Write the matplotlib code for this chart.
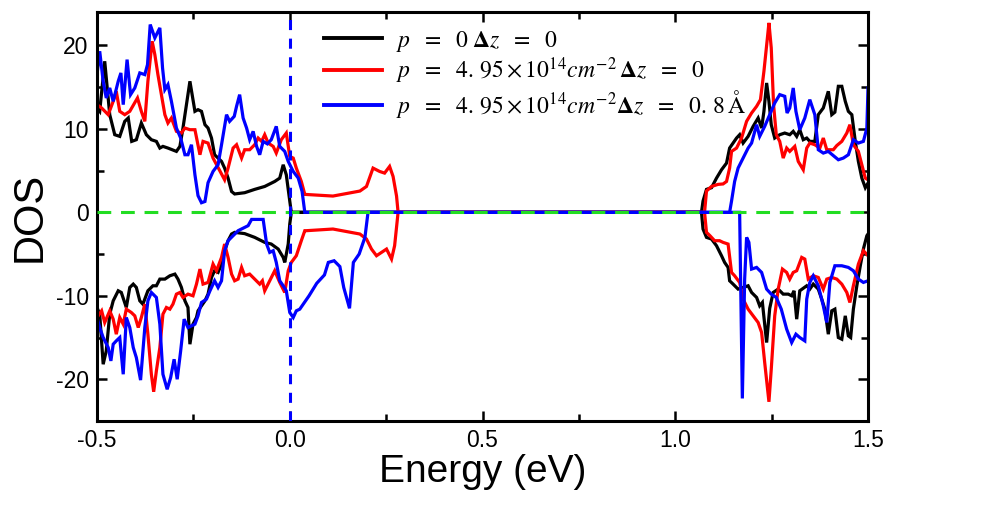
import numpy as np
import matplotlib
matplotlib.use("Agg")
import matplotlib.pyplot as plt
from matplotlib.ticker import MultipleLocator

plt.rcParams['font.family'] = ['Liberation Sans', 'DejaVu Sans']
plt.rcParams['mathtext.fontset'] = 'stix'
plt.rcParams['axes.unicode_minus'] = False

# ---------------- data ----------------
black_up_x = [-0.5, -0.493, -0.48, -0.467, -0.454, -0.441, -0.428, -0.419, -0.41, -0.398,
              -0.385, -0.372, -0.359, -0.346, -0.337, -0.329, -0.316, -0.294, -0.285, -0.277,
              -0.259, -0.246, -0.238, -0.229, -0.22, -0.212, -0.203, -0.195, -0.186, -0.177,
              -0.169, -0.16, -0.151, -0.143, -0.117, -0.091, -0.065, -0.039, -0.026, -0.017,
              -0.009, 0.0, 0.004,
              1.068, 1.072, 1.081, 1.094, 1.107, 1.12, 1.133, 1.141, 1.15, 1.159,
              1.167, 1.176, 1.189, 1.202, 1.215, 1.224, 1.23, 1.237, 1.243, 1.249,
              1.258, 1.271, 1.284, 1.297, 1.306, 1.315, 1.323, 1.332, 1.341, 1.349,
              1.362, 1.371, 1.384, 1.397, 1.406, 1.414, 1.423, 1.432, 1.441, 1.449,
              1.458, 1.467, 1.475, 1.484, 1.493, 1.5]
black_up_y = [12.5, 12.1, 18.1, 11.7, 9.3, 9.1, 10.9, 11.3, 8.5, 8.7,
              10.7, 9.3, 8.7, 8.5, 7.7, 7.9, 7.7, 7.3, 7.9, 10.1,
              15.7, 12.1, 12.3, 12.1, 10.5, 10.1, 8.9, 6.9, 6.5, 6.1,
              5.3, 4.1, 2.5, 2.2, 2.35, 2.75, 3.1, 3.7, 4.1, 5.7,
              4.5, 1.35, 0,
              0, 1.35, 2.75, 2.95, 4.1, 5.1, 5.9, 7.7, 8.3, 8.9,
              9.3, 8.3, 9.1, 10.3, 11.3, 10.1, 12.1, 15.5, 13.3, 10.5,
              8.9, 9.3, 9.5, 9.3, 9.7, 9.1, 9.9, 8.7, 8.9, 8.5,
              8.5, 11.7, 12.5, 14.5, 11.7, 12.0, 15.1, 15.1, 13.3, 12.1,
              11.7, 8.5, 6.1, 4.1, 2.95, 3.5]

black_dn_x = [-0.5, -0.493, -0.484, -0.476, -0.467, -0.458, -0.445, -0.437, -0.424, -0.415,
              -0.406, -0.398, -0.389, -0.381, -0.368, -0.355, -0.346, -0.337, -0.324, -0.311,
              -0.298, -0.29, -0.281, -0.272, -0.264, -0.259, -0.251, -0.242, -0.238, -0.22,
              -0.212, -0.203, -0.195, -0.186, -0.177, -0.169, -0.16, -0.151, -0.143, -0.117,
              -0.091, -0.065, -0.048, -0.03, -0.017, -0.013, -0.004, 0.0, 0.004,
              1.068, 1.072, 1.081, 1.094, 1.107, 1.12, 1.128, 1.137, 1.141, 1.15,
              1.163, 1.176, 1.189, 1.198, 1.211, 1.219, 1.226, 1.237, 1.245, 1.254,
              1.267, 1.28, 1.293, 1.302, 1.308, 1.315, 1.323, 1.341, 1.349, 1.358,
              1.371, 1.38, 1.388, 1.397, 1.406, 1.414, 1.423, 1.432, 1.441, 1.449,
              1.455, 1.462, 1.471, 1.48, 1.488, 1.497, 1.5]
black_dn_y = [-11.4, -12.2, -18.2, -16.6, -12.2, -10.6, -9.4, -9.6, -11.4, -9.0,
              -8.6, -9.0, -10.6, -11.0, -9.4, -8.8, -8.8, -8.0, -8.0, -7.6,
              -7.4, -8.0, -9.0, -10.6, -11.4, -15.8, -13.4, -12.6, -11.8, -10.6,
              -9.8, -7.8, -7.0, -7.2, -6.2, -4.6, -3.4, -2.6, -2.4, -2.55,
              -3.0, -3.6, -3.8, -4.4, -5.4, -6.0, -3.8, -1.4, 0,
              0, -2.0, -3.0, -3.2, -4.0, -5.2, -6.0, -6.6, -8.2, -8.6,
              -9.2, -9.0, -8.8, -9.6, -10.2, -11.2, -10.8, -15.6, -11.5, -9.6,
              -9.2, -9.8, -9.8, -10.0, -9.4, -12.8, -9.4, -8.8, -9.2, -8.6,
              -9.2, -10.4, -11.6, -14.6, -11.8, -11.6, -15.0, -15.2, -12.4, -14.8,
              -15.0, -11.6, -8.8, -6.4, -4.4, -2.8, -2.6]

red_up_x = [-0.5, -0.488, -0.471, -0.458, -0.45, -0.441, -0.428, -0.415, -0.395, -0.385,
            -0.376, -0.368, -0.357, -0.35, -0.342, -0.333, -0.324, -0.316, -0.307, -0.294,
            -0.281, -0.272, -0.259, -0.246, -0.233, -0.225, -0.212, -0.199, -0.169, -0.16,
            -0.147, -0.138, -0.125, -0.117, -0.104, -0.091, -0.082, -0.073, -0.065, -0.056,
            -0.043, -0.035, -0.022, -0.009, 0.0, 0.009, 0.017, 0.03, 0.039, 0.112,
            0.182, 0.199, 0.216, 0.233, 0.246, 0.259, 0.268, 0.277, 0.281,
            1.076, 1.081, 1.094, 1.111, 1.124, 1.133, 1.141, 1.146, 1.159, 1.172,
            1.185, 1.198, 1.211, 1.221, 1.23, 1.239, 1.243, 1.249, 1.255, 1.262,
            1.271, 1.28, 1.289, 1.297, 1.31, 1.319, 1.332, 1.341, 1.349, 1.362,
            1.375, 1.384, 1.393, 1.41, 1.419, 1.432, 1.445, 1.453, 1.462, 1.475,
            1.484, 1.493, 1.5]
red_up_y = [12.9, 12.5, 11.7, 13.3, 14.5, 12.1, 11.7, 12.1, 13.7, 12.1,
            10.9, 15.7, 20.5, 18.9, 16.5, 14.1, 11.7, 10.7, 11.3, 9.7,
            9.5, 10.1, 9.9, 9.9, 6.9, 8.5, 8.3, 6.5, 3.9, 5.3,
            7.7, 8.1, 6.5, 7.5, 7.5, 8.1, 8.9, 8.5, 9.3, 8.3,
            7.9, 7.1, 8.7, 9.5, 6.7, 6.5, 5.3, 3.7, 2.15, 1.95,
            2.55, 3.1, 5.3, 4.9, 4.7, 5.5, 4.3, 1.95, 0,
            0, 2.55, 3.1, 3.35, 3.4, 3.7, 5.3, 7.3, 7.7, 8.9,
            10.9, 11.9, 12.7, 13.5, 16.9, 20.9, 22.7, 19.7, 12.9, 9.3,
            8.5, 6.5, 7.7, 7.3, 7.9, 6.1, 5.1, 7.7, 8.3, 8.1,
            7.7, 8.9, 7.5, 7.5, 8.0, 8.5, 9.5, 10.5, 8.1, 7.3,
            5.7, 4.1, 3.9]

red_dn_x = [-0.5, -0.488, -0.48, -0.467, -0.458, -0.45, -0.441, -0.432, -0.424, -0.411,
            -0.402, -0.393, -0.385, -0.376, -0.368, -0.359, -0.353, -0.346, -0.337, -0.329,
            -0.32, -0.311, -0.303, -0.294, -0.285, -0.277, -0.264, -0.251, -0.242, -0.233,
            -0.225, -0.212, -0.199, -0.19, -0.177, -0.169, -0.16, -0.151, -0.143, -0.134,
            -0.125, -0.117, -0.104, -0.091, -0.078, -0.071, -0.065, -0.052, -0.039, -0.026,
            -0.013, -0.004, 0.004, 0.017, 0.03, 0.039, 0.043, 0.112, 0.182, 0.199,
            0.212, 0.225, 0.238, 0.251, 0.264, 0.272, 0.281,
            1.076, 1.081, 1.09, 1.102, 1.115, 1.124, 1.137, 1.146, 1.154, 1.167,
            1.176, 1.189, 1.202, 1.215, 1.224, 1.232, 1.243, 1.249, 1.258, 1.267,
            1.278, 1.289, 1.297, 1.306, 1.315, 1.328, 1.336, 1.345, 1.358, 1.371,
            1.384, 1.393, 1.406, 1.419, 1.432, 1.445, 1.453, 1.462, 1.475, 1.488,
            1.5]
red_dn_y = [-12.6, -11.8, -13.2, -11.8, -12.8, -14.6, -12.6, -13.4, -11.6, -12.0,
            -12.4, -13.8, -12.6, -11.0, -14.6, -19.4, -21.5, -19.0, -16.2, -12.2,
            -11.4, -11.6, -11.0, -9.8, -9.6, -10.2, -9.8, -10.0, -8.6, -6.8,
            -8.6, -8.4, -6.2, -7.0, -5.4, -3.8, -5.4, -7.4, -8.2, -8.0,
            -6.6, -7.6, -7.4, -8.0, -8.6, -8.2, -9.4, -8.2, -7.0, -8.4,
            -9.6, -7.0, -6.0, -5.2, -3.4, -2.2, -2.2, -2.0, -2.6, -3.2,
            -4.4, -5.2, -4.8, -4.4, -5.6, -4.0, 0,
            0, -2.4, -2.8, -3.4, -3.4, -3.6, -3.8, -7.2, -7.6, -8.4,
            -10.4, -11.6, -12.4, -13.2, -14.4, -18.0, -22.7, -18.8, -12.4, -9.2,
            -6.8, -7.2, -8.0, -7.2, -7.0, -5.4, -5.6, -8.0, -7.6, -7.8,
            -9.2, -8.0, -7.8, -8.0, -8.6, -9.6, -10.8, -8.8, -6.2, -4.6,
            -5.2]

blue_up_x = [-0.5, -0.493, -0.484, -0.476, -0.467, -0.458, -0.445, -0.438, -0.432, -0.422,
             -0.413, -0.402, -0.389, -0.376, -0.369, -0.362, -0.35, -0.337, -0.33, -0.324,
             -0.316, -0.307, -0.294, -0.283, -0.272, -0.264, -0.255, -0.246, -0.238, -0.229,
             -0.22, -0.212, -0.199, -0.186, -0.177, -0.164, -0.156, -0.144, -0.138, -0.13,
             -0.121, -0.112, -0.104, -0.095, -0.086, -0.078, -0.069, -0.058, -0.048, -0.035,
             -0.026, -0.013, -0.004, 0.009, 0.022, 0.032, 0.039,
             1.141, 1.146, 1.154, 1.163, 1.176, 1.189, 1.198, 1.211, 1.219, 1.232,
             1.245, 1.258, 1.271, 1.284, 1.29, 1.297, 1.306, 1.313, 1.323, 1.336,
             1.349, 1.362, 1.371, 1.384, 1.397, 1.41, 1.423, 1.436, 1.449, 1.462,
             1.475, 1.488, 1.497, 1.5]
blue_up_y = [16.5, 19.3, 15.7, 13.7, 14.9, 13.3, 15.7, 16.7, 12.9, 18.3,
             14.1, 14.9, 16.7, 16.5, 17.7, 22.5, 20.9, 22.1, 17.3, 14.7,
             15.3, 13.3, 10.1, 8.9, 6.9, 6.9, 8.1, 4.5, 2.0, 1.15,
             1.3, 3.55, 4.9, 5.7, 8.1, 11.7, 10.9, 11.5, 12.7, 14.1,
             11.3, 10.1, 8.7, 9.7, 7.9, 6.9, 8.5, 8.2, 8.7, 10.3,
             7.9, 7.3, 6.1, 4.9, 4.1, 2.5, 0,
             0, 1.35, 3.7, 5.3, 6.5, 7.7, 8.3, 10.5, 9.1, 10.3,
             11.7, 13.1, 14.1, 13.9, 11.9, 12.5, 14.9, 12.1, 9.9, 11.3,
             13.5, 11.7, 7.5, 7.1, 7.3, 6.8, 6.3, 6.5, 6.9, 8.7,
             8.3, 8.5, 10.1, 14.9]

blue_dn_x = [-0.5, -0.493, -0.484, -0.471, -0.464, -0.458, -0.45, -0.441, -0.432, -0.424,
             -0.415, -0.406, -0.398, -0.387, -0.376, -0.368, -0.359, -0.346, -0.337, -0.329,
             -0.318, -0.309, -0.3, -0.292, -0.283, -0.274, -0.264, -0.255, -0.246, -0.238,
             -0.229, -0.216, -0.207, -0.195, -0.186, -0.177, -0.169, -0.16, -0.147, -0.134,
             -0.121, -0.108, -0.099, -0.069, -0.06, -0.052, -0.043, -0.035, -0.026, -0.017,
             -0.009, 0.0, 0.009, 0.017, 0.026, 0.035, 0.05, 0.07, 0.09, 0.1,
             0.115, 0.13, 0.14, 0.155, 0.165, 0.18, 0.195, 0.203,
             1.167, 1.174, 1.18, 1.185, 1.191, 1.198, 1.211, 1.224, 1.237, 1.249,
             1.262, 1.275, 1.289, 1.302, 1.313, 1.323, 1.336, 1.341, 1.349, 1.358,
             1.371, 1.384, 1.393, 1.401, 1.414, 1.432, 1.449, 1.462, 1.475, 1.488,
             1.5]
blue_dn_y = [-12.6, -13.8, -15.0, -16.2, -17.8, -15.8, -15.4, -15.0, -19.4, -12.6,
             -13.8, -16.2, -17.4, -20.1, -13.8, -10.6, -9.6, -10.2, -13.4, -19.4,
             -21.2, -19.8, -17.6, -20.0, -16.6, -12.8, -13.8, -13.6, -13.4, -12.4,
             -10.8, -10.4, -9.4, -8.2, -9.0, -8.2, -4.6, -3.4, -2.8, -2.2,
             -1.9, -1.6, -0.85, -0.85, -3.8, -4.8, -4.6, -6.0, -8.2, -8.8,
             -9.4, -12.0, -12.6, -11.8, -11.6, -11.0, -10.0, -8.5, -7.5, -6.0,
             -5.8, -6.5, -9.0, -11.5, -6.0, -5.0, -3.0, 0,
             0, -22.3, -8.0, -3.0, -3.6, -6.8, -6.6, -7.2, -9.2, -9.8,
             -10.2, -11.6, -14.0, -15.6, -14.6, -15.0, -15.4, -10.4, -8.4, -7.6,
             -8.8, -11.2, -13.2, -8.4, -6.4, -6.4, -6.6, -7.0, -8.0, -8.4,
             -8.2]

series_labels = [
    r'$p\ \ =\ \ 0\ \mathbf{\Delta} z\ \ =\ \ 0$',
    r'$p\ \ =\ \ 4.\,95\times10^{14}cm^{-2}\,\mathbf{\Delta} z\ \ =\ \ 0$',
    r'$p\ \ =\ \ 4.\,95\times10^{14}cm^{-2}\mathbf{\Delta} z\ \ =\ \ 0.\,8\,\mathrm{Å}$',
]
series_colors = ['black', '#ff0000', '#0000ff']

x_ticks = [-0.5, 0.0, 0.5, 1.0, 1.5]
y_ticks = [-20, -10, 0, 10, 20]

# ---------------- figure ----------------
fig = plt.figure(figsize=(9.96, 5.09), dpi=100)
ax = fig.add_axes([0.0974, 0.1729, 0.7741, 0.8035])

lw = 2.3
curves = [
    (black_up_x, black_up_y, black_dn_x, black_dn_y),
    (red_up_x, red_up_y, red_dn_x, red_dn_y),
    (blue_up_x, blue_up_y, blue_dn_x, blue_dn_y),
]
for (ux, uy, dx, dy), c, lab in zip(curves, series_colors, series_labels):
    assert len(ux) == len(uy) and len(dx) == len(dy)
    ax.plot(ux, uy, color=c, lw=lw, label=lab, solid_joinstyle='miter')
    ax.plot(dx, dy, color=c, lw=lw, solid_joinstyle='miter')

ax.axhline(0, color='#22dd22', lw=2.2, ls=(0, (4.5, 3.2)), zorder=5)
ax.axvline(0, color='#0000ff', lw=2.2, ls=(0, (3.3, 2.8)), zorder=5)

ax.set_xlim(-0.5, 1.5)
ax.set_ylim(-25, 24)
ax.set_xticks(x_ticks)
ax.set_xticklabels([f'{v:.1f}' for v in x_ticks])
ax.set_yticks(y_ticks)
ax.set_yticklabels([str(v) for v in y_ticks])
ax.xaxis.set_minor_locator(MultipleLocator(0.25))
ax.yaxis.set_minor_locator(MultipleLocator(5))
ax.tick_params(which='both', direction='in', top=True, right=True, width=1.8)
ax.tick_params(which='major', length=7, labelsize=16.5, pad=6)
ax.tick_params(which='minor', length=5)
for s in ax.spines.values():
    s.set_linewidth(2.2)

ax.set_xlabel('Energy (eV)', fontsize=28, labelpad=1)
ax.set_ylabel('DOS', fontsize=30, labelpad=4)

leg = ax.legend(loc='upper left', bbox_to_anchor=(0.273, 1.0), frameon=False,
                fontsize=17, handlelength=2.45, handletextpad=0.6, labelspacing=0.08,
                borderaxespad=0.3)
for h in leg.get_lines():
    h.set_linewidth(2.8)

fig.savefig('out.png', dpi=100)
